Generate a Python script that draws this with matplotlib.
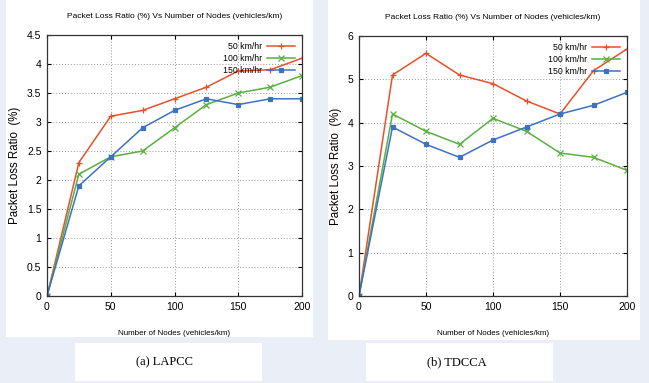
import matplotlib
matplotlib.use("Agg")
import matplotlib.pyplot as plt
from matplotlib.patches import Rectangle

plt.rcParams['font.family'] = ['Liberation Sans', 'DejaVu Sans']

# Data
nodes = [0, 25, 50, 75, 100, 125, 150, 175, 200]
speeds = ['50 km/hr', '100 km/hr', '150 km/hr']

lapcc_50 = [0, 2.3, 3.1, 3.2, 3.4, 3.6, 3.88, 3.9, 4.1]
lapcc_100 = [0, 2.1, 2.4, 2.5, 2.9, 3.3, 3.5, 3.6, 3.8]
lapcc_150 = [0, 1.9, 2.4, 2.9, 3.2, 3.4, 3.3, 3.4, 3.4]

tdcca_50 = [0, 5.1, 5.6, 5.1, 4.9, 4.5, 4.2, 5.2, 5.7]
tdcca_100 = [0, 4.2, 3.8, 3.5, 4.1, 3.8, 3.3, 3.2, 2.9]
tdcca_150 = [0, 3.9, 3.5, 3.2, 3.6, 3.9, 4.2, 4.4, 4.7]

colors = ['#e8502a', '#5ab040', '#3d72c2']
markers = ['+', 'x', 's']

W, H = 649, 383
fig = plt.figure(figsize=(W / 100, H / 100), dpi=100)
fig.patch.set_facecolor('#e9eef7')


def px_rect(x0, y0, x1, y1):
    # pixel box (top-left origin) -> figure fraction rectangle
    return Rectangle((x0 / W, 1 - y1 / H), (x1 - x0) / W, (y1 - y0) / H,
                     transform=fig.transFigure, facecolor='white', edgecolor='none', zorder=-10)


for box in [(6, 0, 313, 337), (328, 0, 640, 340), (75, 343, 262, 381), (366, 343, 553, 381)]:
    fig.patches.append(px_rect(*box))


def make_axes(x0, y0, x1, y1):
    return fig.add_axes([x0 / W, 1 - y1 / H, (x1 - x0) / W, (y1 - y0) / H])


def draw_panel(ax, series, ymax, ystep):
    for vals, lab, c, m in zip(series, speeds, colors, markers):
        ms = 3 if m == 's' else 5
        ax.plot(nodes, vals, color=c, lw=1.1, marker=m, ms=ms, mew=0.9, label=lab)
    ax.set_xlim(0, 200)
    ax.set_ylim(0, ymax)
    ax.set_xticks(range(0, 201, 50))
    yt = [i * ystep for i in range(int(round(ymax / ystep)) + 1)]
    ax.set_yticks(yt)
    ax.set_yticklabels(['%g' % v for v in yt])
    ax.grid(True, color='#9a9a9a', ls=(0, (1, 2)), lw=0.7)
    ax.tick_params(direction='in', top=True, right=True, labelsize=7.5, length=3, pad=4)
    for s in ax.spines.values():
        s.set_linewidth(0.9)
        s.set_color('#333333')
    ax.set_title('Packet Loss Ratio (%) Vs Number of Nodes (vehicles/km)', fontsize=6, pad=12)
    ax.set_xlabel('Number of Nodes (vehicles/km)', fontsize=5.8, labelpad=13)
    ax.set_ylabel('Packet Loss Ratio  (%)', fontsize=8.3, labelpad=4)
    leg = ax.legend(loc='upper right', frameon=False, markerfirst=False, fontsize=6.3,
                    handlelength=3.2, labelspacing=0.35, borderaxespad=0.4, handletextpad=0.6)
    for t in leg.get_texts():
        t.set_ha('right')


ax1 = make_axes(47, 35, 302, 296)
draw_panel(ax1, [lapcc_50, lapcc_100, lapcc_150], 4.5, 0.5)

ax2 = make_axes(359, 36, 627, 296)
draw_panel(ax2, [tdcca_50, tdcca_100, tdcca_150], 6, 1)

fig.text(164.5 / W, 1 - 362 / H, '(a) LAPCC', ha='center', va='center',
         fontsize=9, family=['Liberation Serif', 'DejaVu Serif'])
fig.text(457 / W, 1 - 362 / H, '(b) TDCCA', ha='center', va='center',
         fontsize=9, family=['Liberation Serif', 'DejaVu Serif'])

fig.savefig('out.png', dpi=100, facecolor=fig.get_facecolor())
